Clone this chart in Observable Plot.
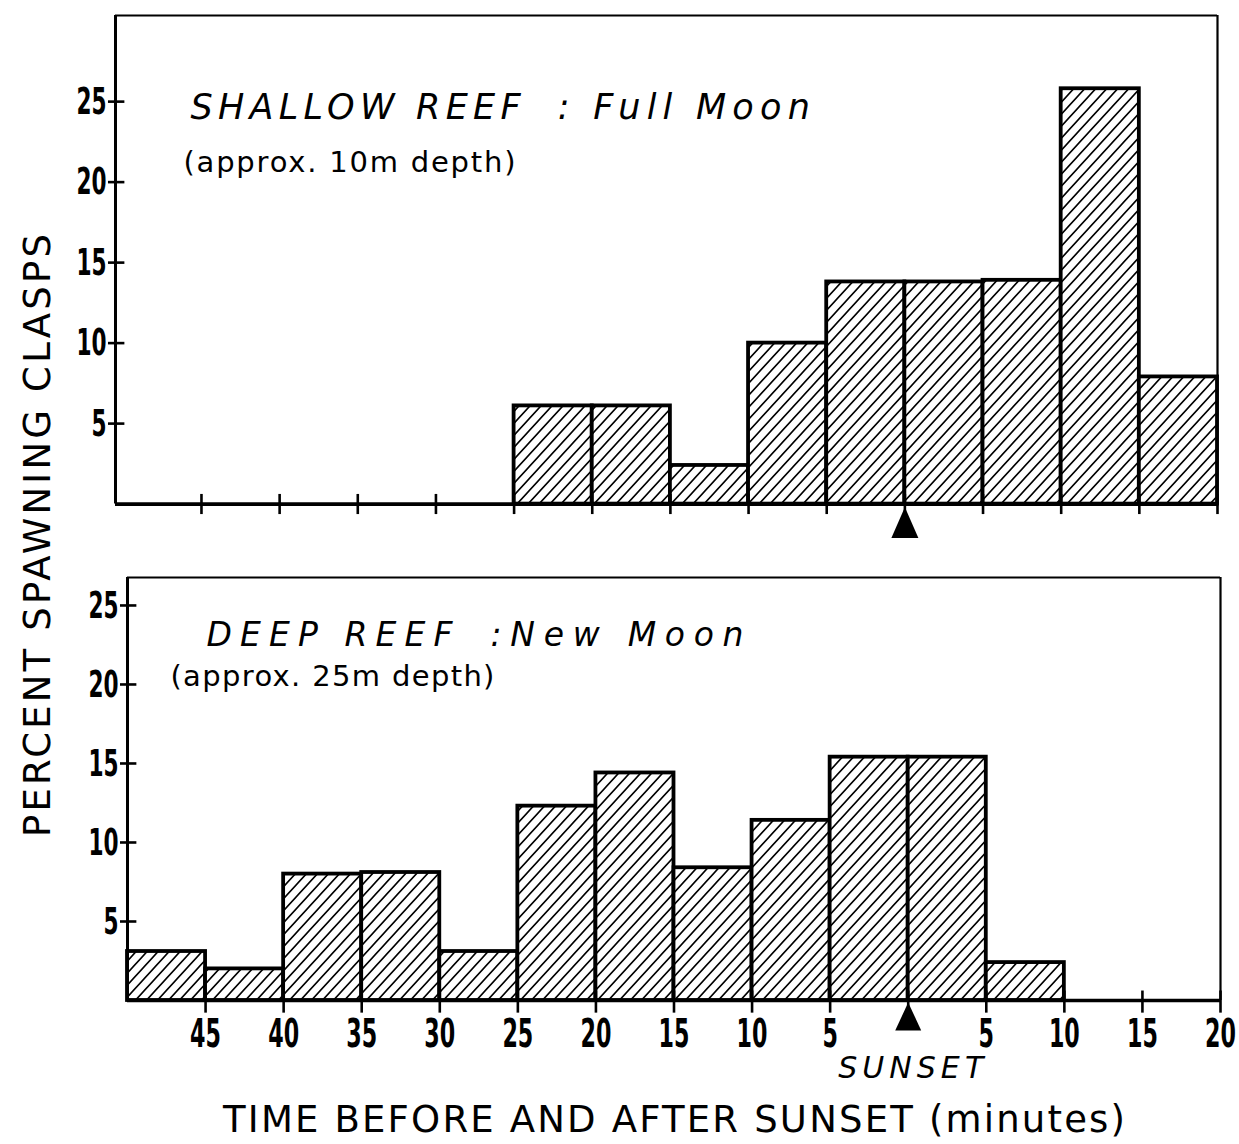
<!DOCTYPE html>
<html><head><meta charset="utf-8">
<script src="https://cdn.jsdelivr.net/npm/d3@7"></script>
<script src="https://cdn.jsdelivr.net/npm/@observablehq/plot@0.6"></script>
<style>
html,body{margin:0;padding:0;background:#fff;overflow:hidden;}
#wrap{position:relative;width:1239px;height:1144px;overflow:hidden;background:#fff;}
#wrap svg{position:absolute;left:0;}
</style></head><body><div id="wrap"></div>
<script>
// ---- data ----
const binStarts = [-50,-45,-40,-35,-30,-25,-20,-15,-10,-5,0,5,10,15];
const binWidth = 5;
const shallowPercent = [0,0,0,0,0,6.1,6.1,2.4,10.0,13.8,13.8,13.9,25.8,7.9];
const deepPercent = [3.1,2.0,8.0,8.1,3.1,12.3,14.4,8.4,11.4,15.4,15.4,2.4,0,0];
const yTicks = [5,10,15,20,25];
const xTicks = [-45,-40,-35,-30,-25,-20,-15,-10,-5,0,5,10,15,20];
const xTickLabels = ["45","40","35","30","25","20","15","10","5","","5","10","15","20"];
const sunset = [0];
const panelTitlesA = ["SHALLOW REEF", "DEEP REEF"];
const panelTitlesB = [":\u00a0Full Moon", ":New Moon"];
const panelSubtitles = ["(approx. 10m depth)", "(approx. 25m depth)"];
const sunsetLabel = "SUNSET";
const yTitle = "PERCENT SPAWNING CLASPS";
const xTitle = "TIME BEFORE AND AFTER SUNSET (minutes)";

const SANS = '"DejaVu Sans", "Liberation Sans", sans-serif';

function triangle(w, h) {
  return { draw(ctx) { ctx.moveTo(0, 0); ctx.lineTo(w / 2, h); ctx.lineTo(-w / 2, h); ctx.closePath(); } };
}

function addHatch(svg, id) {
  const defs = d3.select(svg).insert("defs", ":first-child");
  const w = 11, h = 12;
  const p = defs.append("pattern").attr("id", id).attr("patternUnits", "userSpaceOnUse")
    .attr("width", w).attr("height", h);
  p.append("rect").attr("width", w).attr("height", h).attr("fill", "white");
  p.append("path")
    .attr("d", [-1, 0, 1].map(k => `M${k*w - w/2},${h*1.5}L${k*w + w*1.5},${-h/2}`).join(""))
    .attr("stroke", "black").attr("stroke-width", 1.6).attr("fill", "none");
}

function fitTexts(svg, fits) {
  d3.select(svg).selectAll("text").each(function() {
    const t = this.textContent;
    if (fits[t] != null) {
      this.setAttribute("textLength", fits[t]);
      this.setAttribute("lengthAdjust", "spacing");
    }
  });
}

// narrow the numeric tick labels (the original uses a condensed face)
function condense(svg, sx) {
  d3.select(svg).selectAll("text").each(function() {
    if (!/^\d+$/.test(this.textContent)) return;
    const tr = this.getAttribute("transform");
    if (tr) this.setAttribute("transform", tr + ` scale(${sx},1)`);
    else {
      const x = +this.getAttribute("x") || 0, y = +this.getAttribute("y") || 0;
      this.removeAttribute("x"); this.removeAttribute("y");
      this.setAttribute("transform", `translate(${x},${y}) scale(${sx},1)`);
    }
  });
}

function panel(o) {
  const data = binStarts.map((s, i) => ({start: s, end: s + binWidth, value: o.values[i]})).filter(d => d.value > 0);
  const [x0, x1] = o.xDomain;
  const marks = [
    Plot.rectY(data, {x1: "start", x2: "end", y: "value", fill: `url(#${o.hatchId})`, stroke: "black", strokeWidth: 3.8}),
    Plot.ruleY([o.yMax], {y: d => d, stroke: "black", strokeWidth: 2.2}),
    Plot.ruleX([x1], {x: d => d, stroke: "black", strokeWidth: 2.2}),
    Plot.ruleX([x0], {x: d => d, stroke: "black", strokeWidth: 3}),
    Plot.ruleY([0], {y: d => d, stroke: "black", strokeWidth: 3.6}),
    Plot.ruleY(yTicks, {y: d => d, x1: () => x0 - 0.45, x2: () => x0 + 0.6, stroke: "black", strokeWidth: 2.6}),
    Plot.ruleX(xTicks, {x: d => d, y1: () => -o.xTickDown, y2: () => o.xTickUp, stroke: "black", strokeWidth: 2.6}),
    Plot.text(yTicks, {y: d => d, frameAnchor: "left", dx: -9, text: d => String(d), textAnchor: "end",
      lineAnchor: "middle", fontSize: 38, fontWeight: "bold", fontFamily: SANS, fill: "black"}),
    Plot.dot(sunset, {x: d => d, y: () => 0, symbol: triangle(o.triW, o.triH), r: 10, fill: "black", stroke: "none", dy: o.triDy}),
    Plot.text([o.titleA], {x: () => o.titleAX, y: () => o.titleY, text: d => d, textAnchor: "start", lineAnchor: "middle",
      fontSize: o.titleSize, fontStyle: "italic", fontFamily: SANS, fill: "black"}),
    Plot.text([o.titleB], {x: () => o.titleBX, y: () => o.titleY, text: d => d, textAnchor: "start", lineAnchor: "middle",
      fontSize: o.titleSize, fontStyle: "italic", fontFamily: SANS, fill: "black"}),
    Plot.text([o.subtitle], {x: () => o.subX, y: () => o.subY, text: d => d, textAnchor: "start", lineAnchor: "middle",
      fontSize: 29, fontFamily: SANS, fill: "black"})
  ];
  if (o.xLabels) {
    marks.push(Plot.text(xTicks, {x: d => d, frameAnchor: "bottom", dy: 34, text: (d, i) => xTickLabels[i],
      lineAnchor: "middle", fontSize: 39, fontWeight: "bold", fontFamily: SANS, fill: "black"}));
    marks.push(Plot.text(sunset, {x: d => d, frameAnchor: "bottom", dx: 2.5, dy: 67.4, text: () => sunsetLabel,
      lineAnchor: "middle", fontSize: 30, fontStyle: "italic", fontFamily: SANS, fill: "black"}));
  }
  const svg = Plot.plot({
    width: 1239, height: o.height,
    marginLeft: o.ml, marginRight: o.mr, marginTop: o.mt, marginBottom: o.mb,
    x: {domain: o.xDomain, axis: null},
    y: {domain: [0, o.yMax], axis: null},
    style: {background: "transparent", overflow: "visible", color: "black"},
    marks
  });
  addHatch(svg, o.hatchId);
  fitTexts(svg, o.fits);
  condense(svg, 0.57);
  svg.style.top = o.top + "px";
  return svg;
}

const wrap = document.getElementById("wrap");

wrap.appendChild(panel({
  values: shallowPercent, xDomain: [-50.5, 20], yMax: 30.35,
  height: 560, top: 0, ml: 115, mr: 22, mt: 15, mb: 56.4,
  hatchId: "hatchTop", xTickDown: 0.65, xTickUp: 0.6, xLabels: false,
  triW: 27, triH: 31, triDy: 3,
  titleA: panelTitlesA[0], titleAX: -45.7, titleB: panelTitlesB[0], titleBX: -22.2, titleY: 24.6, titleSize: 35,
  subtitle: panelSubtitles[0], subX: -46.15, subY: 21.2,
  fits: {[panelTitlesA[0]]: 330, [panelTitlesB[0]]: 252, [panelSubtitles[0]]: 332}
}));

wrap.appendChild(panel({
  values: deepPercent, xDomain: [-50, 20], yMax: 26.77,
  height: 584, top: 560, ml: 127, mr: 19, mt: 17, mb: 144,
  hatchId: "hatchBottom", xTickDown: 0.8, xTickUp: 0.6, xLabels: true,
  triW: 26, triH: 28, triDy: 2,
  titleA: panelTitlesA[1], titleAX: -44.94, titleB: panelTitlesB[1], titleBX: -26.75, titleY: 23.08, titleSize: 33,
  subtitle: panelSubtitles[1], subX: -47.25, subY: 20.46,
  fits: {[panelTitlesA[1]]: 246, [panelTitlesB[1]]: 253, [panelSubtitles[1]]: 324, [sunsetLabel]: 145}
}));

// axis titles overlay
const ov = d3.create("svg").attr("width", 1239).attr("height", 1144)
  .style("top", "0px").style("pointer-events", "none");
ov.append("text").attr("transform", "translate(50,535.5) rotate(-90)").attr("text-anchor", "middle")
  .attr("font-family", SANS).attr("font-size", 37).attr("fill", "black")
  .attr("textLength", 603).attr("lengthAdjust", "spacing").text(yTitle);
ov.append("text").attr("x", 223).attr("y", 1132).attr("text-anchor", "start")
  .attr("font-family", SANS).attr("font-size", 37).attr("fill", "black")
  .attr("textLength", 902).attr("lengthAdjust", "spacing").text(xTitle);
wrap.appendChild(ov.node());
</script></body></html>
